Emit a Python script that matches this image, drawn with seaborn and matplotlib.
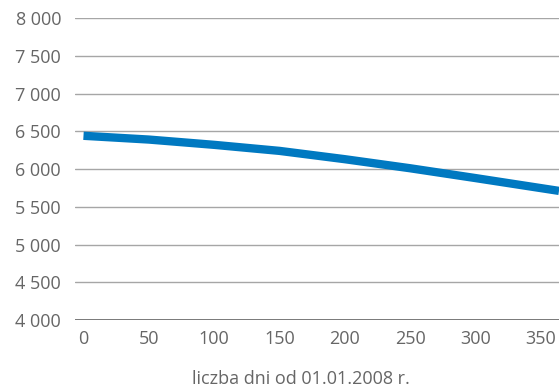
import matplotlib
matplotlib.use("Agg")
import matplotlib.pyplot as plt
import seaborn as sns
import pandas as pd
from matplotlib.ticker import FuncFormatter

days = [0, 50, 100, 150, 200, 250, 300, 364]
values = [6440, 6390, 6320, 6240, 6130, 6010, 5880, 5710]
y_ticks = [4000, 4500, 5000, 5500, 6000, 6500, 7000, 7500, 8000]
x_ticks = [0, 50, 100, 150, 200, 250, 300, 350]
x_label = "liczba dni od 01.01.2008 r."

sns.set_theme(style="white")
plt.rcParams["font.family"] = ["Open Sans", "DejaVu Sans"]

df = pd.DataFrame({"dzien": days, "wartosc": values})

fig = plt.figure(figsize=(5.59, 3.87), dpi=100)
ax = fig.add_axes([75 / 559, 67 / 387, 1 - 75 / 559, 302 / 387])

for y in y_ticks:
    ax.axhline(y, color="#6e6e6e" if y == 4000 else "#a6a6a6",
               lw=1.3 if y == 4000 else 1.0, zorder=1)

sns.lineplot(data=df, x="dzien", y="wartosc", ax=ax, color="#0079c1",
             linewidth=6, zorder=3, solid_capstyle="butt")

ax.set_xlim(-6.5, 364)
ax.set_ylim(4000, 8000)
ax.set_yticks(y_ticks)
ax.set_xticks(x_ticks)
ax.yaxis.set_major_formatter(FuncFormatter(lambda v, p: f"{int(v):,}".replace(",", " ")))
ax.tick_params(axis="both", length=0, labelsize=13, labelcolor="#666666")
ax.tick_params(axis="y", pad=10)
ax.tick_params(axis="x", pad=7)
ax.set_xlabel(x_label, fontsize=13, color="#666666", labelpad=10)
ax.xaxis.set_label_coords((301 - 75) / 484, -0.165)
ax.set_ylabel("")
for s in ax.spines.values():
    s.set_visible(False)

fig.savefig("out.png", dpi=100)
